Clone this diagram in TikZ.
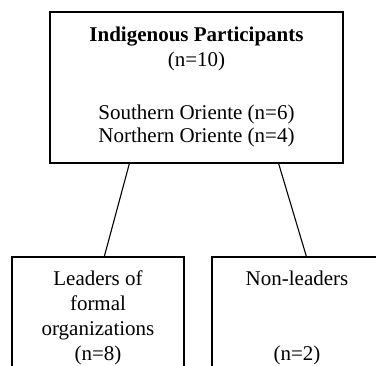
\documentclass[tikz,border=0pt]{standalone}
\usepackage{fontspec}
\setmainfont{Liberation Serif}
\begin{document}
\begin{tikzpicture}[x=1pt,y=1pt,
  box/.style={draw,line width=1.3pt,inner sep=0pt},
  boxtext/.style={align=center,inner sep=0pt,anchor=north,font=\fontsize{21}{25}\selectfont},
  link/.style={line width=1.1pt}]
  \useasboundingbox (0,0) rectangle (376,-366);
  \clip (0,0) rectangle (376,-366);
  \node[box,minimum width=293pt,minimum height=151pt] (all) at (196.5,-87.5) {};
  \node[box,minimum width=172pt,minimum height=140pt] (leaders) at (98,-327) {};
  \node[box,minimum width=170pt,minimum height=140pt] (nonleaders) at (297,-327) {};

  \node[boxtext] (alltext) at (196.5,-27) {\textbf{Indigenous Participants}\\(n=10)\\[28pt]Southern Oriente (n=6)\\[-2pt]Northern Oriente (n=4)};
  \node[boxtext] (leaderstext) at (98,-271) {Leaders of\\formal\\organizations\\(n=8)};
  \node[boxtext] (nonleaderstext) at (297,-271) {Non-leaders\\[50pt](n=2)};

  \draw[link] ([xshift=80pt]all.south west) -- ([xshift=93pt]leaders.north west);
  \draw[link] ([xshift=-65pt]all.south east) -- ([xshift=95pt]nonleaders.north west);
\end{tikzpicture}
\end{document}
